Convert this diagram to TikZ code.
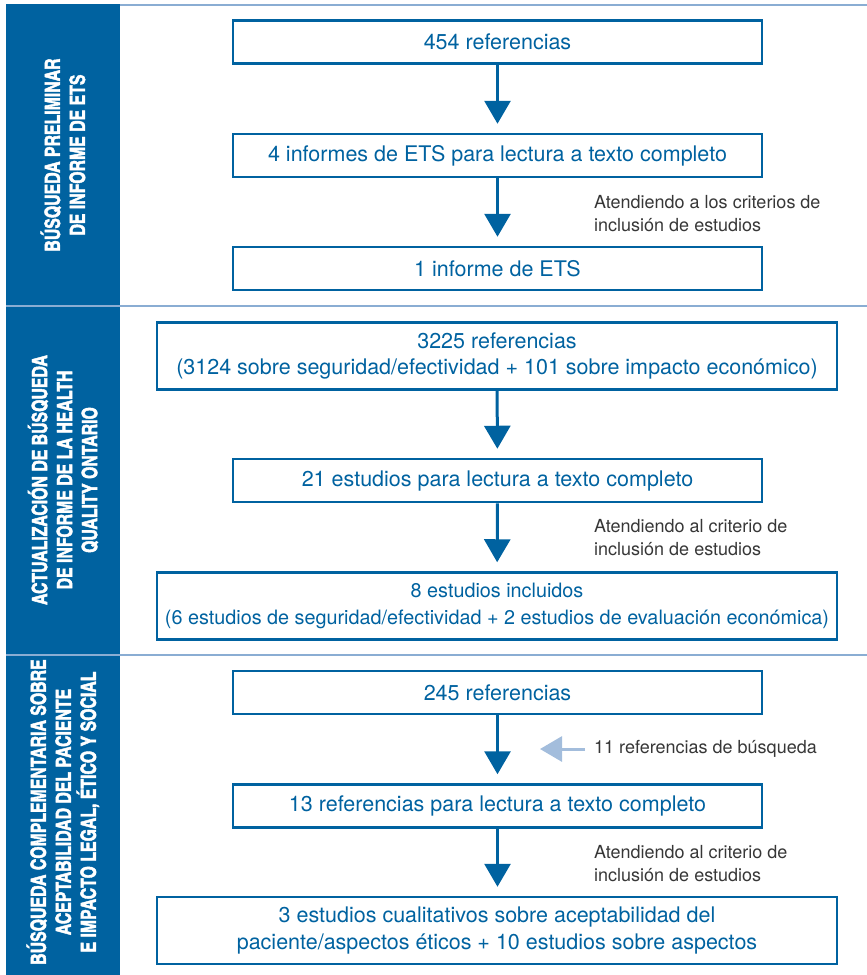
\documentclass[tikz,border=0pt]{standalone}
\usepackage{fontspec}
\setmainfont{TeX Gyre Heros}
\newfontfamily\condfont[FakeStretch=0.92,FakeBold=2]{texgyreheroscn-bold.otf}
\usetikzlibrary{arrows.meta}

\definecolor{etsblue}{RGB}{0,98,160}
\definecolor{sepblue}{RGB}{138,173,211}
\definecolor{paleblue}{RGB}{163,189,220}
\definecolor{notegray}{RGB}{55,55,55}

\tikzset{
  box/.style={draw=etsblue, line width=2.5pt, text=etsblue, align=center,
    minimum width=529pt, minimum height=43pt, inner sep=0pt,
    font=\fontsize{21.5}{26.5}\selectfont},
  widebox/.style={box, minimum width=680pt, minimum height=67pt},
  note/.style={text=notegray, anchor=west, align=left, inner sep=0pt,
    font=\fontsize{18}{23}\selectfont},
  side/.style={rotate=90, text=white, align=center,
    font=\condfont\fontsize{21}{25}\selectfont},
  flow/.style={draw=etsblue, line width=3pt,
    -{Triangle[width=26pt,length=23pt]}, shorten >=9pt},
  extra/.style={draw=paleblue, line width=3pt,
    -{Triangle[width=25pt,length=22pt]}},
  sep/.style={draw=sepblue, line width=2.5pt}
}

\begin{document}
\begin{tikzpicture}[x=1pt,y=-1pt]
\useasboundingbox (0,0) rectangle (867,975);

% side band
\fill[etsblue] (6,4) rectangle (120,975);
\path[sep] (120,5) -- (867,5);
\path[sep] (6,306) -- (867,306);
\path[sep] (6,655) -- (867,655);

\node[side] (s1) at (63,155) {BÚSQUEDA PRELIMINAR\\DE INFORME DE ETS};
\node[side] (s2) at (63,480) {ACTUALIZACIÓN DE BÚSQUEDA\\DE INFORME DE LA HEALTH\\QUALITY ONTARIO};
\node[side] (s3) at (63,812) {BÚSQUEDA COMPLEMENTARIA SOBRE\\ACEPTABILIDAD DEL PACIENTE\\E IMPACTO LEGAL, ÉTICO Y SOCIAL};

% boxes
\node[box] (r454) at (497.5,42) {454 referencias};
\node[box] (inf4) at (497.5,155.5) {4 informes de ETS para lectura a texto completo};
\node[box] (inf1) at (497.5,268.5) {1 informe de ETS};
\node[widebox] (r3225) at (497,356) {3225 referencias\\(3124 sobre seguridad/efectividad + 101 sobre impacto económico)};
\node[box] (e21) at (497.5,480.5) {21 estudios para lectura a texto completo};
\node[widebox, font=\fontsize{19.8}{26.5}\selectfont] (e8) at (497,606) {8 estudios incluidos\\(6 estudios de seguridad/efectividad + 2 estudios de evaluación económica)};
\node[box] (r245) at (497.5,692.5) {245 referencias};
\node[box] (r13) at (497.5,806) {13 referencias para lectura a texto completo};
\node[widebox] (e13) at (497,930.5) {3 estudios cualitativos sobre aceptabilidad del\\paciente/aspectos éticos + 10 estudios sobre aspectos};

% notes
\node[note] (n1) at (594,213.5) {Atendiendo a los criterios de\\inclusión de estudios};
\node[note] (n2) at (594,538) {Atendiendo al criterio de\\inclusión de estudios};
\node[note] (n3) at (594,864) {Atendiendo al criterio de\\inclusión de estudios};
\node[note] (ref11) at (594,749) {11 referencias de búsqueda};
\coordinate (tip11) at (540,749);

% arrows
\path[flow] (r454) -- (inf4);
\path[flow] (inf4) -- (inf1);
\path[flow] (r3225) -- (e21);
\path[flow] (e21) -- (e8);
\path[flow] (r245) -- (r13);
\path[flow] (r13) -- (r13 |- e13.north);
\path[extra] ([xshift=-9pt]ref11.west) -- (tip11);
\end{tikzpicture}
\end{document}
